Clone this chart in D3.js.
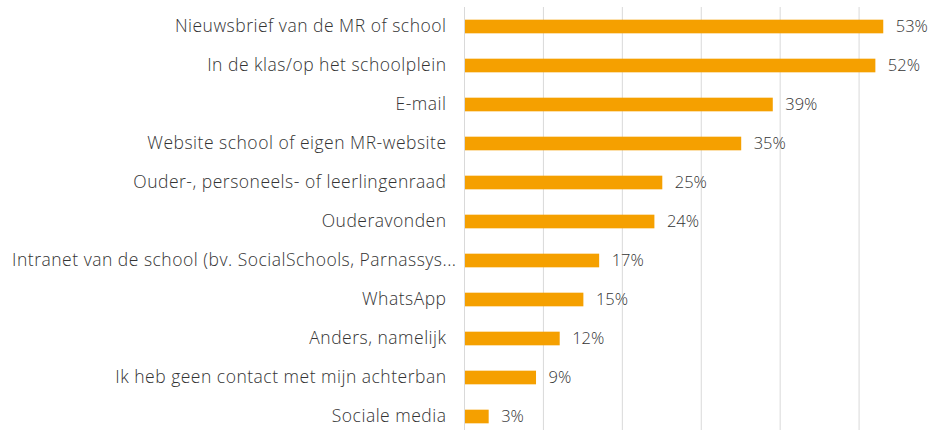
<!DOCTYPE html>
<html>
<head>
<meta charset="utf-8">
<script src="https://cdn.jsdelivr.net/npm/d3@7"></script>
<style>
  body { margin: 0; background: #fff; }
  text { font-family: "Open Sans", sans-serif; }
</style>
</head>
<body>
<div id="chart"></div>
<script>
// data
var categories = [
  "Nieuwsbrief van de MR of school",
  "In de klas/op het schoolplein",
  "E-mail",
  "Website school of eigen MR-website",
  "Ouder-, personeels- of leerlingenraad",
  "Ouderavonden",
  "Intranet van de school (bv. SocialSchools, Parnassys...",
  "WhatsApp",
  "Anders, namelijk",
  "Ik heb geen contact met mijn achterban",
  "Sociale media"
];
var values = [53, 52, 39, 35, 25, 24, 17, 15, 12, 9, 3];
var gridTicks = [0, 10, 20, 30, 40, 50, 60];

// set the dimensions and margins of the graph
var margin = { top: 7, right: -5, bottom: 0, left: 464.5 },
  width = 933 - margin.left - margin.right,
  height = 430 - margin.top - margin.bottom;

var svg = d3
  .select("#chart")
  .append("svg")
  .attr("width", 933)
  .attr("height", 430)
  .append("g")
  .attr("transform", "translate(" + margin.left + "," + margin.top + ")");

var x = d3.scaleLinear().domain([0, 60]).range([0, width]);

var y = d3
  .scaleBand()
  .domain(categories)
  .range([0, 429])
  .paddingInner(0.65)
  .paddingOuter(0.325);

// gridlines
svg
  .selectAll(".grid")
  .data(gridTicks)
  .enter()
  .append("line")
  .attr("x1", function (d) { return x(d); })
  .attr("x2", function (d) { return x(d); })
  .attr("y1", 0)
  .attr("y2", height)
  .attr("stroke", "#d9d9d9")
  .attr("stroke-width", 1);

// category labels (long intranet label overflows a bit to the right, like the original)
svg
  .append("g")
  .call(d3.axisLeft(y).tickSize(0).tickPadding(18))
  .call(function (g) { g.select(".domain").remove(); })
  .selectAll("text")
  .attr("font-size", "17.5px")
  .attr("fill", "#333333")
  .attr("dx", function (d) { return d.indexOf("...") > -1 ? 10 : 0; })
  .style("font-family", "'Open Sans', sans-serif")
  .style("font-weight", 300)
  .style("letter-spacing", "0.5px");

// bars
svg
  .selectAll("myRect")
  .data(values)
  .enter()
  .append("rect")
  .attr("x", x(0) + 0.5)
  .attr("y", function (d, i) { return y(categories[i]); })
  .attr("width", function (d) { return x(d) - x(0); })
  .attr("height", y.bandwidth())
  .attr("fill", "#f5a000");

// value labels
svg
  .selectAll("valText")
  .data(values)
  .enter()
  .append("text")
  .attr("x", function (d) { return x(d) + 13; })
  .attr("y", function (d, i) { return y(categories[i]) + y.bandwidth() / 2; })
  .attr("dy", "0.35em")
  .attr("font-size", "16.5px")
  .attr("fill", "#333333")
  .style("font-weight", 300)
  .text(function (d) { return d + "%"; });
</script>
</body>
</html>
